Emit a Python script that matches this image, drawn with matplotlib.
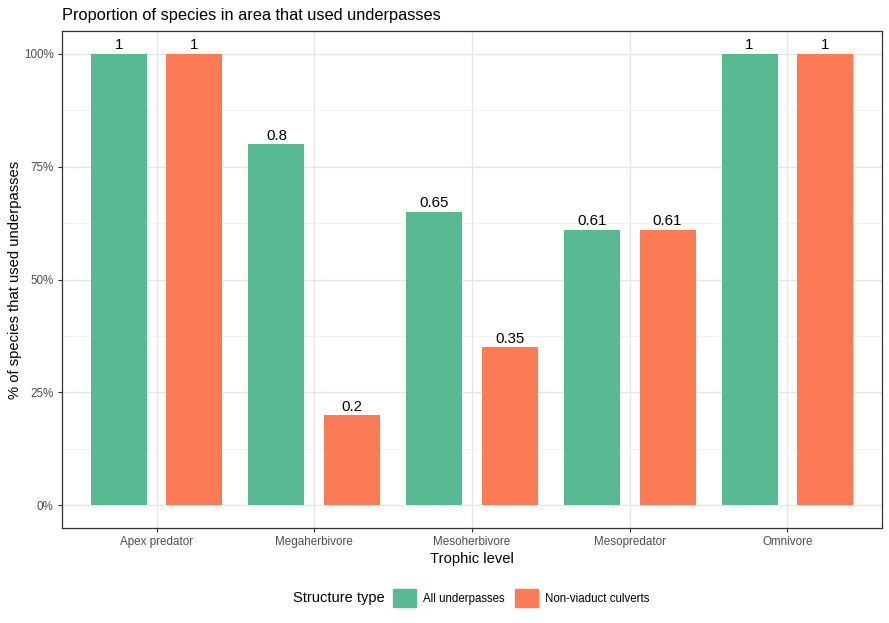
import matplotlib.pyplot as plt
import matplotlib.patches as mpatches
import numpy as np

# proportion of species using underpasses, by trophic level
trophic = ['Apex predator', 'Megaherbivore', 'Mesoherbivore', 'Mesopredator', 'Omnivore']
all_underpasses = [1.0, 0.8, 0.65, 0.61, 1.0]
non_viaduct = [1.0, 0.2, 0.35, 0.61, 1.0]
series_names = ['All underpasses', 'Non-viaduct culverts']
colours = ['#58BA93', '#FA7B54']

plt.rcParams['font.family'] = ['Liberation Sans', 'DejaVu Sans']

fig = plt.figure(figsize=(8.89, 6.23), dpi=100)
ax = fig.add_axes([62 / 889, 95 / 623, 820 / 889, 497 / 623])

x = np.arange(len(trophic))
w = 0.355
off = 0.24
b1 = ax.bar(x - off, all_underpasses, w, color=colours[0], zorder=3)
b2 = ax.bar(x + off, non_viaduct, w, color=colours[1], zorder=3)

for bars, vals in [(b1, all_underpasses), (b2, non_viaduct)]:
    ax.bar_label(bars, labels=['%g' % v for v in vals], padding=1, fontsize=10.8, color='black')

ax.set_xlim(-0.6, 4.6)
ax.set_ylim(-0.05, 1.05)
ax.set_xticks(x)
ax.set_xticklabels(trophic)
ax.set_yticks([0, 0.25, 0.5, 0.75, 1.0])
ax.set_yticklabels(['0%', '25%', '50%', '75%', '100%'])
ax.set_yticks([0.125, 0.375, 0.625, 0.875], minor=True)
ax.tick_params(axis='both', which='major', labelsize=8.4, labelcolor='#4D4D4D',
               color='#333333', length=3, width=0.8, pad=3)
ax.tick_params(axis='y', which='minor', length=0)

ax.grid(True, which='major', color='#E6E6E6', linewidth=1.0, zorder=0)
ax.grid(True, which='minor', axis='y', color='#F0F0F0', linewidth=0.6, zorder=0)
ax.set_axisbelow(True)
for s in ax.spines.values():
    s.set_color('#333333')
    s.set_linewidth(0.9)

ax.set_xlabel('Trophic level', fontsize=10.6, labelpad=3)
ax.set_ylabel('% of species that used underpasses', fontsize=10.6, labelpad=1.5)
ax.set_title('Proportion of species in area that used underpasses', fontsize=11.75,
             loc='left', pad=8)

# legend at the bottom with the title on the left
fig.text(293 / 889, 1 - 598 / 623, 'Structure type', fontsize=10.5, va='center', ha='left')
handles = [mpatches.Patch(color=c, label=n) for c, n in zip(colours, series_names)]
fig.legend(handles=handles, loc='center left', bbox_to_anchor=(385 / 889, 1 - 598 / 623),
           ncol=2, frameon=False, fontsize=8.3, handlelength=2.0, handleheight=2.0,
           handletextpad=0.6, columnspacing=0.9, borderpad=0.2)

plt.savefig('out.png', dpi=100)
